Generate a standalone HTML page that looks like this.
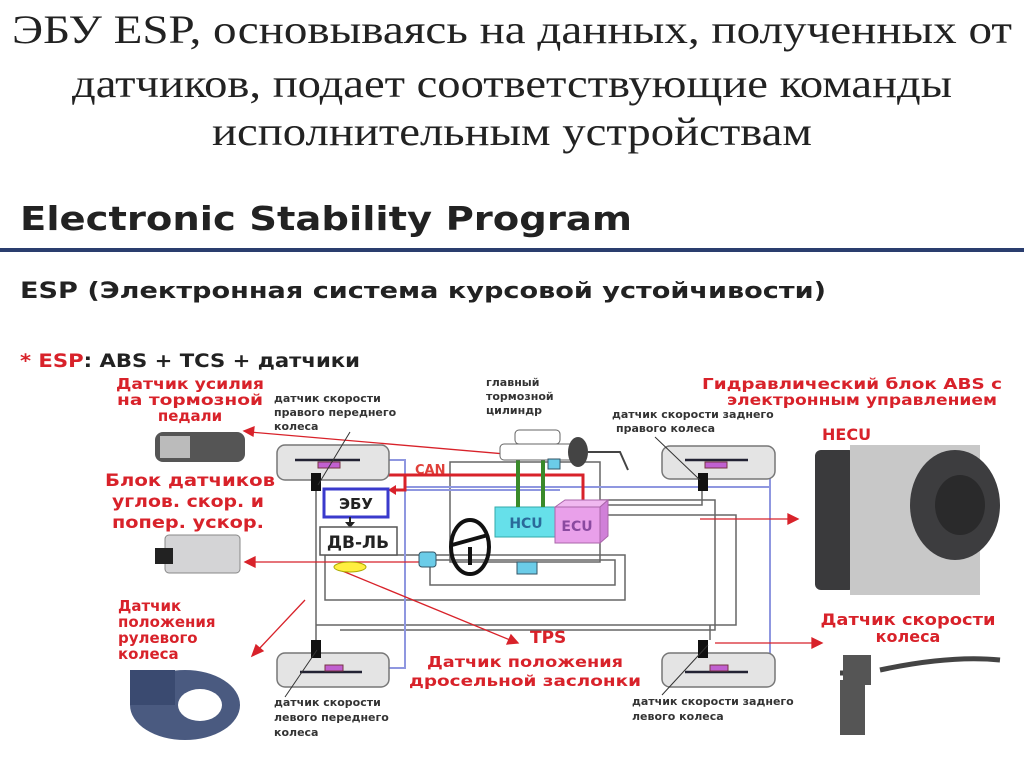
<!DOCTYPE html>
<html><head><meta charset="utf-8"><style>
body{margin:0;background:#fff;width:1024px;height:767px;overflow:hidden}
svg{display:block}
.t{font-family:"Liberation Serif",serif;font-size:40px;fill:#222}
.s{font-family:"DejaVu Sans","Liberation Sans",sans-serif;font-weight:bold}
.r{fill:#d8222a}
.k{fill:#333}
</style></head><body>
<svg width="1024" height="767" viewBox="0 0 1024 767" xmlns="http://www.w3.org/2000/svg">
<text class="t" x="512" y="43" text-anchor="middle" textLength="1000" lengthAdjust="spacingAndGlyphs">ЭБУ ESP, основываясь на данных, полученных от</text>
<text class="t" x="512" y="97" text-anchor="middle" textLength="880" lengthAdjust="spacingAndGlyphs">датчиков, подает соответствующие команды</text>
<text class="t" x="512" y="145" text-anchor="middle" textLength="600" lengthAdjust="spacingAndGlyphs">исполнительным устройствам</text>

<text class="s" x="20" y="230" font-size="33" fill="#222" textLength="612" lengthAdjust="spacingAndGlyphs">Electronic Stability Program</text>
<rect x="0" y="248" width="1024" height="4" fill="#2a3d6e"/>
<text class="s" x="20" y="298" font-size="22" fill="#222" textLength="806" lengthAdjust="spacingAndGlyphs">ESP (Электронная система курсовой устойчивости)</text>
<text class="s" x="20" y="367" font-size="19" textLength="340" lengthAdjust="spacingAndGlyphs"><tspan fill="#d8222a">* ESP</tspan><tspan fill="#222">: ABS + TCS + датчики</tspan></text>

<g class="s r" font-size="15">
<text x="190" y="389" text-anchor="middle" textLength="148" lengthAdjust="spacingAndGlyphs">Датчик усилия</text>
<text x="190" y="405" text-anchor="middle" textLength="146" lengthAdjust="spacingAndGlyphs">на тормозной</text>
<text x="190" y="421" text-anchor="middle">педали</text>
<text x="105" y="486" font-size="17" textLength="170" lengthAdjust="spacingAndGlyphs">Блок датчиков</text>
<text x="112" y="507" font-size="17" textLength="152" lengthAdjust="spacingAndGlyphs">углов. скор. и</text>
<text x="112" y="528" font-size="17" textLength="152" lengthAdjust="spacingAndGlyphs">попер. ускор.</text>
<text x="118" y="611">Датчик</text>
<text x="118" y="627">положения</text>
<text x="118" y="643">рулевого</text>
<text x="118" y="659">колеса</text>
<text x="852" y="389" text-anchor="middle" textLength="300" lengthAdjust="spacingAndGlyphs">Гидравлический блок ABS с</text>
<text x="862" y="405" text-anchor="middle" textLength="270" lengthAdjust="spacingAndGlyphs">электронным управлением</text>
<text x="822" y="440" font-size="16">HECU</text>
<text x="908" y="625" text-anchor="middle" font-size="16" textLength="175" lengthAdjust="spacingAndGlyphs">Датчик скорости</text>
<text x="908" y="642" text-anchor="middle" font-size="16">колеса</text>
<text x="530" y="643" font-size="17">TPS</text>
<text x="525" y="667" text-anchor="middle" textLength="196" lengthAdjust="spacingAndGlyphs">Датчик положения</text>
<text x="525" y="686" text-anchor="middle" textLength="232" lengthAdjust="spacingAndGlyphs">дросельной заслонки</text>
<text x="415" y="474" font-size="13" fill="#e0403a">CAN</text>
</g>
<g class="s k" font-size="11">
<text x="274" y="402">датчик скорости</text>
<text x="274" y="416">правого переднего</text>
<text x="274" y="430">колеса</text>
<text x="486" y="386">главный</text>
<text x="486" y="400">тормозной</text>
<text x="486" y="414">цилиндр</text>
<text x="612" y="418">датчик скорости заднего</text>
<text x="616" y="432">правого колеса</text>
<text x="274" y="706">датчик скорости</text>
<text x="274" y="721">левого переднего</text>
<text x="274" y="736">колеса</text>
<text x="632" y="705">датчик скорости заднего</text>
<text x="632" y="720">левого колеса</text>
</g>

<g fill="none" stroke="#666" stroke-width="1.5">
<rect x="450" y="462" width="150" height="100"/>
<rect x="325" y="555" width="300" height="45"/>
<rect x="430" y="560" width="185" height="25"/>
<path d="M316 490 V625 H736 V515 H600 M316 625 V640 M340 630 H715 V500 H600 M702 480 V505 H600 M710 625 V640"/>
</g>
<g fill="none" stroke="#8f97e0" stroke-width="2">
<path d="M365 460 H405 V668 H365 M405 487 H770 V460 H745 M405 490 H560 M770 487 V672 H745"/>
</g>
<path d="M378 475 H583 V500 M405 475 V490 H392" stroke="#d8222a" stroke-width="3" fill="none"/>
<polygon points="388,490 396,485 396,495" fill="#d8222a"/>
<g stroke="#d8222a" stroke-width="1.3" fill="#d8222a">
<line x1="575" y1="460" x2="250" y2="432"/><polygon points="244,431 254,427 253,436"/>
<line x1="430" y1="562" x2="252" y2="562"/><polygon points="245,562 255,557 255,567"/>
<line x1="305" y1="600" x2="258" y2="650"/><polygon points="252,656 256,645 263,651"/>
<line x1="340" y1="570" x2="510" y2="640"/><polygon points="518,643 507,644 511,635"/>
<line x1="700" y1="519" x2="790" y2="519"/><polygon points="798,519 788,514 788,524"/>
<line x1="715" y1="643" x2="815" y2="643"/><polygon points="822,643 812,638 812,648"/>
</g>

<g fill="#e4e4e4" stroke="#777" stroke-width="1.5">
<rect x="277" y="445" width="112" height="35" rx="8"/>
<rect x="277" y="653" width="112" height="34" rx="8"/>
<rect x="662" y="446" width="113" height="33" rx="8"/>
<rect x="662" y="653" width="113" height="34" rx="8"/>
</g>
<g stroke="#223" stroke-width="2.5">
<line x1="295" y1="460" x2="360" y2="460"/><line x1="300" y1="672" x2="362" y2="672"/>
<line x1="685" y1="460" x2="748" y2="460"/><line x1="685" y1="672" x2="748" y2="672"/>
</g>
<g fill="#c060d0" stroke="#734">
<rect x="318" y="462" width="22" height="6"/><rect x="325" y="665" width="18" height="6"/>
<rect x="705" y="462" width="22" height="6"/><rect x="710" y="665" width="18" height="6"/>
</g>
<g fill="#111">
<rect x="311" y="473" width="10" height="18"/><rect x="311" y="640" width="10" height="18"/>
<rect x="698" y="473" width="10" height="18"/><rect x="698" y="640" width="10" height="18"/>
</g>
<g stroke="#333" stroke-width="1">
<line x1="350" y1="432" x2="318" y2="485"/><line x1="655" y1="437" x2="700" y2="480"/>
<line x1="317" y1="650" x2="285" y2="697"/><line x1="708" y1="645" x2="662" y2="695"/>
</g>

<rect x="324" y="489" width="64" height="28" fill="#fff" stroke="#3a3acc" stroke-width="3"/>
<text class="s" x="356" y="509" text-anchor="middle" font-size="15" fill="#222">ЭБУ</text>
<path d="M350 517 V525" stroke="#222" stroke-width="2"/><polygon points="345,522 355,522 350,528" fill="#222"/>
<rect x="320" y="527" width="77" height="28" fill="#fff" stroke="#555" stroke-width="1.5"/>
<text class="s" x="358" y="548" text-anchor="middle" font-size="17" fill="#222">ДВ-ЛЬ</text>
<rect x="495" y="507" width="62" height="30" fill="#66e0ea" stroke="#3aa"/>
<text class="s" x="526" y="528" text-anchor="middle" font-size="14" fill="#2a6a9a" font-weight="normal">HCU</text>
<polygon points="555,507 565,500 608,500 600,507" fill="#f0b8f0" stroke="#a6a"/>
<polygon points="600,507 608,500 608,536 600,543" fill="#d080d8" stroke="#a6a"/>
<rect x="555" y="507" width="45" height="36" fill="#e9a0ea" stroke="#a6a"/>
<text class="s" x="577" y="531" text-anchor="middle" font-size="14" fill="#8a4aa0" font-weight="normal">ECU</text>
<path d="M518 460 V507 M543 460 V507" stroke="#3a8a2a" stroke-width="4"/>
<rect x="515" y="430" width="45" height="14" rx="4" fill="#fff" stroke="#666"/>
<rect x="500" y="444" width="75" height="16" rx="4" fill="#fff" stroke="#666"/>
<ellipse cx="578" cy="452" rx="10" ry="15" fill="#444"/>
<path d="M588 452 H620 L628 470" stroke="#444" stroke-width="2" fill="none"/>
<rect x="548" y="459" width="12" height="10" fill="#6bcce8" stroke="#356"/>
<ellipse cx="470" cy="547" rx="19" ry="27" fill="none" stroke="#111" stroke-width="4"/>
<path d="M452 545 L488 535 M470 547 L470 565" stroke="#111" stroke-width="4"/>
<rect x="419" y="552" width="17" height="15" rx="3" fill="#6bcce8" stroke="#356"/>
<rect x="517" y="562" width="20" height="12" fill="#6bcce8" stroke="#356"/>
<ellipse cx="350" cy="567" rx="16" ry="5" fill="#ffef40" stroke="#aa0"/>

<rect x="155" y="432" width="90" height="30" rx="8" fill="#555"/>
<rect x="160" y="436" width="30" height="22" fill="#bbb"/>
<rect x="165" y="535" width="75" height="38" rx="4" fill="#d4d4d6" stroke="#888"/>
<rect x="155" y="548" width="18" height="16" fill="#222"/>
<ellipse cx="185" cy="705" rx="55" ry="35" fill="#4a5a80"/>
<ellipse cx="200" cy="705" rx="22" ry="16" fill="#fff"/>
<rect x="130" y="670" width="45" height="35" fill="#3a4a70"/>
<rect x="815" y="450" width="40" height="140" rx="6" fill="#3a3a3c"/>
<rect x="850" y="445" width="130" height="150" fill="#c8c8c8"/>
<ellipse cx="955" cy="505" rx="45" ry="55" fill="#3d3d3f"/>
<ellipse cx="960" cy="505" rx="25" ry="30" fill="#2a2a2b"/>
<path d="M840 673 L868 673 M880 670 Q950 655 1000 660" stroke="#444" stroke-width="5" fill="none"/>
<rect x="843" y="655" width="28" height="30" fill="#555"/>
<rect x="840" y="680" width="25" height="55" fill="#555"/>
</svg>
</body></html>
